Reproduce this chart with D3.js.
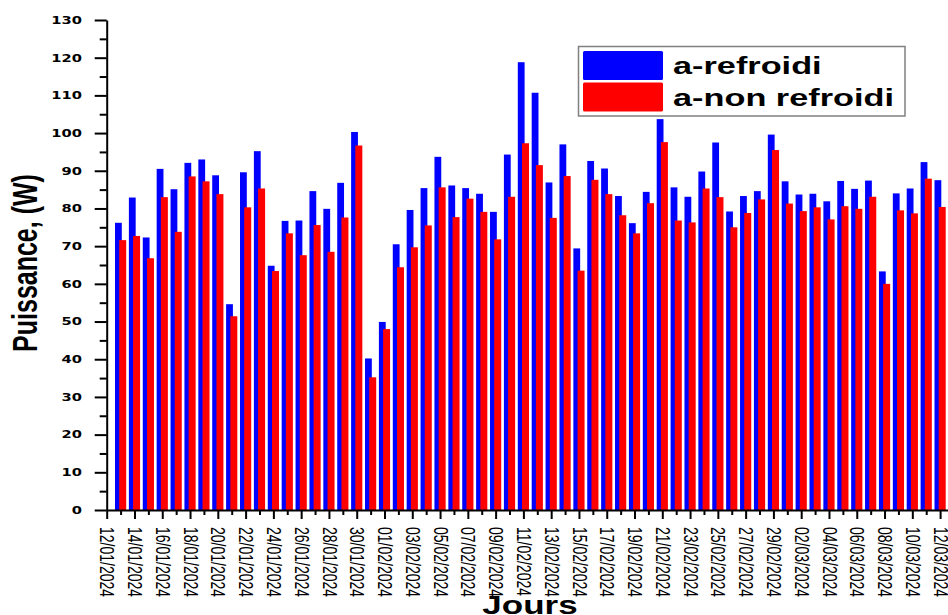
<!DOCTYPE html>
<html>
<head>
<meta charset="utf-8">
<script src="https://cdn.jsdelivr.net/npm/d3@7"></script>
<style>
  body { margin: 0; background: #fff; }
  svg { display: block; }
</style>
</head>
<body>
<div id="chart"></div>
<script>
// days with a measurement (one group of bars per day)
var days = [
  "13/01/2024","14/01/2024","15/01/2024","16/01/2024","17/01/2024","18/01/2024","19/01/2024","20/01/2024",
  "21/01/2024","22/01/2024","23/01/2024","24/01/2024","25/01/2024","26/01/2024","27/01/2024","28/01/2024",
  "29/01/2024","30/01/2024","31/01/2024","01/02/2024","02/02/2024","03/02/2024","04/02/2024","05/02/2024",
  "06/02/2024","07/02/2024","08/02/2024","09/02/2024","10/02/2024","11/02/2024","12/02/2024","13/02/2024",
  "14/02/2024","15/02/2024","16/02/2024","17/02/2024","18/02/2024","19/02/2024","20/02/2024","21/02/2024",
  "22/02/2024","23/02/2024","24/02/2024","25/02/2024","26/02/2024","27/02/2024","28/02/2024","29/02/2024",
  "01/03/2024","02/03/2024","03/03/2024","04/03/2024","05/03/2024","06/03/2024","07/03/2024","08/03/2024",
  "09/03/2024","10/03/2024","11/03/2024","12/03/2024"
];

// a-refroidi (W)
var refroidi = [
  76.2, 82.9, 72.3, 90.5, 85.1, 92.1, 93.0, 88.8, 54.6, 89.6,
  95.2, 64.8, 76.7, 76.8, 84.6, 79.9, 86.8, 100.3, 40.2, 49.9,
  70.5, 79.6, 85.4, 93.7, 86.1, 85.4, 83.9, 79.1, 94.3, 118.8,
  110.7, 86.9, 97.0, 69.4, 92.6, 90.6, 83.3, 76.1, 84.4, 103.7,
  85.6, 83.1, 89.8, 97.5, 79.2, 83.3, 84.6, 99.6, 87.2, 83.7,
  83.9, 81.9, 87.3, 85.2, 87.4, 63.3, 84.0, 85.3, 92.3, 87.5
];

// a-non refroidi (W)
var nonRefroidi = [
  71.6, 72.7, 66.8, 83.0, 73.8, 88.5, 87.2, 83.8, 51.4, 80.3,
  85.3, 63.4, 73.4, 67.6, 75.6, 68.5, 77.6, 96.7, 35.2, 48.0,
  64.4, 69.7, 75.5, 85.6, 77.7, 82.6, 79.1, 71.8, 83.1, 97.3,
  91.5, 77.5, 88.6, 63.5, 87.6, 83.8, 78.2, 73.4, 81.4, 97.6,
  76.8, 76.3, 85.3, 83.0, 75.0, 78.8, 82.4, 95.5, 81.3, 79.3,
  80.3, 77.1, 80.6, 79.9, 83.1, 60.0, 79.5, 78.7, 87.9, 80.4
];

// labelled ticks on the x axis
var xTickLabels = [
  "12/01/2024","14/01/2024","16/01/2024","18/01/2024","20/01/2024","22/01/2024","24/01/2024","26/01/2024",
  "28/01/2024","30/01/2024","01/02/2024","03/02/2024","05/02/2024","07/02/2024","09/02/2024","11/02/2024",
  "13/02/2024","15/02/2024","17/02/2024","19/02/2024","21/02/2024","23/02/2024","25/02/2024","27/02/2024",
  "29/02/2024","02/03/2024","04/03/2024","06/03/2024","08/03/2024","10/03/2024","12/03/2024"
];
var yTicks = [0, 10, 20, 30, 40, 50, 60, 70, 80, 90, 100, 110, 120, 130];
var yMinorTicks = [5, 15, 25, 35, 45, 55, 65, 75, 85, 95, 105, 115, 125];
var seriesNames = ["a-refroidi", "a-non refroidi"];
var seriesColors = ["#0000ff", "#ff0000"];

var W = 948, H = 615;
var SX = 1.4; // the original picture is stretched horizontally, text too
var font = "'Liberation Sans', Arial, sans-serif";

var parse = d3.utcParse("%d/%m/%Y");
var fmt = d3.utcFormat("%d/%m/%Y");
var dayDates = days.map(parse);
var tickDates = xTickLabels.map(parse);
var tickSet = {};
xTickLabels.forEach(function(t){ tickSet[t] = true; });
var minorDates = dayDates.filter(function(d){ return !tickSet[fmt(d)]; });

var x0 = 106.7, step = 13.89;
var x = d3.scaleUtc()
    .domain([parse("12/01/2024"), parse("13/03/2024")])
    .range([x0, x0 + step * 61]);
var y = d3.scaleLinear()
    .domain([0, 130])
    .range([510, 20]);

var svg = d3.select("#chart").append("svg")
    .attr("width", W)
    .attr("height", H)
    .style("font-family", font);

//bars
var groups = svg.append("g").attr("class", "bars")
  .selectAll("g")
  .data(dayDates)
  .enter().append("g");

groups.append("rect")
    .attr("x", function(d){ return x(d) - 5.6; })
    .attr("width", 6.8)
    .attr("y", function(d, i){ return y(refroidi[i]); })
    .attr("height", function(d, i){ return y(0) - y(refroidi[i]); })
    .attr("fill", seriesColors[0]);

groups.append("rect")
    .attr("x", function(d){ return x(d) - 1.4; })
    .attr("width", 7)
    .attr("y", function(d, i){ return y(nonRefroidi[i]); })
    .attr("height", function(d, i){ return y(0) - y(nonRefroidi[i]); })
    .attr("fill", seriesColors[1]);

//y axis minor ticks
svg.append("g")
    .attr("transform", "translate(" + x0 + ",0)")
    .call(d3.axisLeft(y).tickValues(yMinorTicks).tickSizeInner(7).tickSizeOuter(0).tickFormat(""))
    .call(function(g){ g.select(".domain").remove(); })
    .selectAll("line").attr("stroke-width", 2);

//y axis
var gy = svg.append("g")
    .attr("transform", "translate(" + x0 + ",0)")
    .call(d3.axisLeft(y).tickValues(yTicks).tickSizeInner(12).tickSizeOuter(0));
gy.select(".domain").attr("stroke-width", 2);
gy.selectAll("line").attr("stroke-width", 2);
gy.selectAll("text")
    .attr("x", -24.7 / SX)
    .attr("transform", "scale(" + SX + ",1)")
    .style("font-family", "'DejaVu Sans', sans-serif")
    .style("font-weight", "bold")
    .style("font-size", "10.5px")
    .attr("fill", "#000");

//x axis minor ticks
svg.append("g")
    .attr("transform", "translate(0," + y(0) + ")")
    .call(d3.axisBottom(x).tickValues(minorDates).tickSizeInner(5).tickSizeOuter(0).tickFormat(""))
    .call(function(g){ g.select(".domain").remove(); })
    .selectAll("line").attr("stroke-width", 2);

//x axis
var gx = svg.append("g")
    .attr("transform", "translate(0," + y(0) + ")")
    .call(d3.axisBottom(x).tickValues(tickDates).tickSizeInner(9).tickSizeOuter(0).tickFormat(fmt));
gx.select(".domain").attr("stroke-width", 2);
gx.selectAll("line").attr("stroke-width", 2);
gx.selectAll("text")
    .attr("x", 0)
    .attr("y", 0)
    .attr("dy", "0.35em")
    .attr("text-anchor", "start")
    .attr("transform", "translate(0,17) scale(" + SX + ",1) rotate(90)")
    .style("font-family", font)
    .style("font-size", "14px")
    .attr("fill", "#000");

//axis titles
svg.append("text")
    .attr("transform", "translate(37,263) scale(" + SX + ",1) rotate(-90)")
    .attr("text-anchor", "middle")
    .style("font-weight", "bold")
    .style("font-size", "25px")
    .text("Puissance, (W)");

svg.append("text")
    .attr("transform", "translate(530,614) scale(" + SX + ",1)")
    .attr("text-anchor", "middle")
    .style("font-weight", "bold")
    .style("font-size", "25px")
    .text("Jours");

//legend
var legend = svg.append("g").attr("class", "legend");
legend.append("rect")
    .attr("x", 578.5).attr("y", 46.5)
    .attr("width", 326.5).attr("height", 69.5)
    .attr("fill", "#fff")
    .attr("stroke", "#808080")
    .attr("stroke-width", 1.5);

var items = legend.selectAll(".item")
    .data(seriesNames)
    .enter().append("g")
    .attr("class", "item")
    .attr("transform", function(d, i){ return "translate(0," + (i * 31.5) + ")"; });

items.append("rect")
    .attr("x", 583).attr("y", 51)
    .attr("width", 80).attr("height", 29)
    .attr("rx", 1.5)
    .attr("fill", function(d, i){ return seriesColors[i]; });

items.append("text")
    .attr("transform", "translate(673,74) scale(" + SX + ",1)")
    .style("font-weight", "bold")
    .style("font-size", "24.5px")
    .text(function(d){ return d; });
</script>
</body>
</html>
